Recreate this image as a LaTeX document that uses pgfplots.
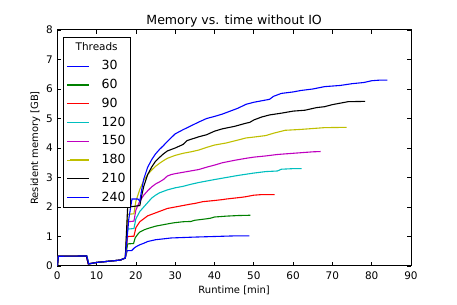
\documentclass[border=0pt]{standalone}
\usepackage{pgfplots}
\pgfplotsset{compat=1.18}
\usepackage{fontspec}
\setmainfont{DejaVu Sans}
\definecolor{mb}{rgb}{0,0,1}
\definecolor{mg}{rgb}{0,0.5,0}
\definecolor{mr}{rgb}{1,0,0}
\definecolor{mc}{rgb}{0,0.75,0.75}
\definecolor{mm}{rgb}{0.75,0,0.75}
\definecolor{my}{rgb}{0.75,0.75,0}
\begin{document}
\begin{tikzpicture}
\begin{axis}[
  scale only axis,
  width=353.7bp, height=236bp,
  xmin=0, xmax=90, ymin=0, ymax=8,
  xtick={0,10,...,90}, ytick={0,1,...,8},
  tick align=inside,
  major tick length=4bp,
  axis line style={line width=1bp},
  every tick/.style={black, line width=0.8bp},
  /pgf/number format/assume math mode=true,
  ticklabel style={font=\fontsize{10.5}{12}\selectfont},
  xticklabel style={yshift=-2.5bp},
  yticklabel style={xshift=-1.1bp},
  xlabel={Runtime [min]},
  ylabel={Resident memory [GB]},
  title={Memory vs. time without IO},
  label style={font=\fontsize{10.5}{12}\selectfont},
  every axis x label/.style={at={(axis description cs:0.5,-0.1157)}, anchor=base},
  every axis y label/.style={at={(axis description cs:-0.0545,0.5)}, rotate=90, anchor=base},
  every axis title/.style={font=\fontsize{12.6}{14}\selectfont, at={(axis description cs:0.5,1.0246)}, anchor=base},
  every axis plot/.append style={line width=1.1bp},
  legend image code/.code={\path (0bp,0bp) -- (3bp,0bp); \draw[#1,line width=1.2bp] (3bp,0bp) -- (22bp,0bp);},
  legend cell align=left,
  legend style={at={(axis description cs:0,1)}, anchor=north west, xshift=5.7bp, yshift=-7bp,
    draw=black, line width=1bp, inner xsep=3bp, inner ysep=2bp,
    font=\fontsize{12.6}{14}\selectfont,
    nodes={inner sep=2bp, text height=9.5bp, text depth=2.5bp},
    row sep=2.76bp, column sep=10bp},
]
\addlegendimage{empty legend}
\addlegendentry{\hspace*{-26bp}\fontsize{10.5}{12}\selectfont Threads}

\addplot[mb] coordinates {(0,0)(0.3,0.33)(7.4,0.34)(7.9,0.07)(10,0.12)(16,0.2)(17.3,0.27)(17.8,0.52)(18.9,0.52)(19.5,0.6)(20,0.65)(21,0.72)(22,0.77)(23,0.83)(24,0.86)(25,0.89)(27,0.92)(29,0.95)(31,0.96)(35,0.98)(40,1.0)(45,1.02)(48.9,1.02)};
\addlegendentry{30}
\addplot[mg] coordinates {(0,0)(0.3,0.33)(7.5,0.34)(8,0.07)(10,0.12)(16,0.2)(17.3,0.27)(17.9,0.75)(19.4,0.76)(19.8,0.95)(20.5,1.08)(21,1.15)(22,1.22)(23,1.27)(24,1.31)(25,1.35)(27,1.4)(29,1.45)(30,1.47)(32,1.5)(34,1.51)(35,1.55)(38,1.6)(39,1.62)(40,1.66)(43,1.69)(46,1.71)(49.1,1.72)};
\addlegendentry{60}
\addplot[mr] coordinates {(0,0)(0.3,0.33)(7.4,0.34)(7.9,0.07)(10,0.12)(16,0.2)(17.3,0.27)(17.9,1.0)(19.5,1.01)(20,1.3)(21,1.5)(22,1.6)(23,1.7)(24,1.75)(25,1.8)(26,1.85)(27,1.9)(28,1.95)(30,2.0)(32,2.05)(34,2.1)(35,2.12)(37,2.18)(40,2.22)(42,2.25)(43,2.27)(45,2.3)(47,2.33)(48,2.35)(50,2.4)(52,2.42)(55.3,2.42)};
\addlegendentry{90}
\addplot[mc] coordinates {(0,0)(0.3,0.33)(7.5,0.34)(8,0.07)(10,0.12)(16,0.2)(17.3,0.27)(17.9,1.25)(19.5,1.27)(20,1.6)(21,1.85)(22,2.0)(23,2.15)(24,2.3)(25,2.4)(26,2.48)(27,2.53)(28,2.58)(30,2.65)(32,2.7)(34,2.77)(36,2.83)(38,2.88)(40,2.93)(43,3.0)(46,3.07)(48,3.11)(50,3.15)(53,3.2)(56,3.22)(57,3.28)(60,3.3)(62.2,3.3)};
\addlegendentry{120}
\addplot[mm] coordinates {(0,0)(0.3,0.33)(7.4,0.34)(7.9,0.07)(10,0.12)(16,0.2)(17.3,0.27)(17.9,1.5)(19.5,1.52)(20,1.9)(21,2.2)(22,2.4)(23,2.55)(24,2.68)(25,2.78)(26,2.85)(27,2.93)(28,3.05)(29,3.1)(30,3.13)(33,3.2)(36,3.27)(38,3.35)(40,3.42)(42,3.5)(45,3.58)(48,3.65)(50,3.69)(53,3.73)(56,3.78)(60,3.82)(63,3.85)(65,3.87)(67,3.88)};
\addlegendentry{150}
\addplot[my] coordinates {(0,0)(0.3,0.33)(7.5,0.34)(8,0.07)(10,0.12)(16,0.2)(17.3,0.27)(17.9,1.75)(19.5,1.77)(20,2.2)(21,2.6)(22,2.9)(23,3.1)(24,3.25)(25,3.38)(26,3.48)(27,3.57)(28,3.65)(30,3.75)(32,3.82)(34,3.87)(36,3.93)(38,4.02)(40,4.1)(43,4.17)(46,4.27)(48,4.34)(50,4.37)(53,4.42)(55,4.5)(58,4.6)(62,4.63)(66,4.67)(68,4.69)(73.6,4.7)};
\addlegendentry{180}
\addplot[black] coordinates {(0,0)(0.3,0.33)(7.4,0.34)(7.9,0.07)(10,0.12)(16,0.2)(17.3,0.27)(17.9,2.0)(19.5,2.02)(21,2.05)(21.5,2.4)(22,2.7)(23,3.1)(24,3.35)(25,3.55)(26,3.68)(27,3.8)(28,3.9)(30,4.0)(32,4.12)(33,4.25)(36,4.38)(38,4.45)(40,4.57)(42,4.65)(45,4.73)(48,4.84)(49,4.87)(50,4.95)(52,5.05)(54,5.12)(57,5.18)(60,5.25)(63,5.28)(66,5.37)(68,5.4)(70,5.47)(74,5.57)(78.3,5.58)};
\addlegendentry{210}
\addplot[mb] coordinates {(0,0)(0.3,0.33)(7.5,0.34)(8,0.07)(10,0.12)(16,0.2)(17.3,0.27)(18.2,1.6)(19,2.27)(20.5,2.27)(21,2.2)(21.5,2.6)(22,2.95)(23,3.35)(24,3.6)(25,3.8)(26,3.95)(27,4.08)(28,4.22)(29,4.35)(30,4.48)(32,4.62)(34,4.75)(36,4.88)(38,5.0)(40,5.07)(42,5.15)(44,5.25)(46,5.35)(48,5.48)(50,5.55)(52,5.6)(54,5.65)(55,5.75)(57,5.85)(60,5.9)(62,5.95)(65,6.0)(68,6.08)(70,6.1)(72,6.12)(75,6.18)(78,6.22)(80,6.28)(82,6.3)(84,6.3)};
\addlegendentry{240}
\end{axis}
\path ([shift={(-57.3bp,-39bp)}]current axis.south west) rectangle ([shift={(46bp,30bp)}]current axis.north east);
\end{tikzpicture}
\end{document}
